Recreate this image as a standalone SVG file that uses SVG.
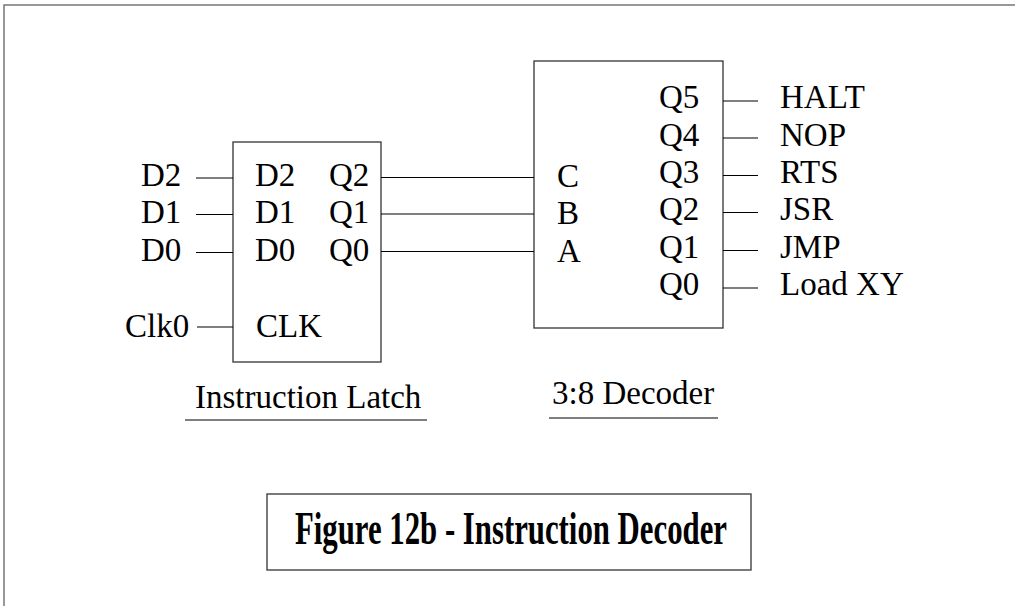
<svg xmlns="http://www.w3.org/2000/svg" width="1015" height="606" viewBox="0 0 1015 606">
<style>
  text { font-family: "Liberation Serif", "Times New Roman", serif; font-size: 33px; fill: #000; }
  .box { fill: #fff; stroke: #333; stroke-width: 1.3; }
  .wire { stroke: #000; stroke-width: 1.2; fill: none; }
  .frame { stroke: #777; stroke-width: 1.5; fill: none; }
  .cap { font-weight: bold; font-size: 47px; }
</style>
<rect width="1015" height="606" fill="#fff"/>
<path class="frame" d="M4,606 V5 H1015"/>

<g id="latch">
  <rect class="box" x="233" y="142" width="148" height="220"/>
  <text x="255" y="186">D2</text>
  <text x="255" y="223">D1</text>
  <text x="255" y="261">D0</text>
  <text x="256" y="337">CLK</text>
  <text x="329" y="186">Q2</text>
  <text x="329" y="223">Q1</text>
  <text x="329" y="261">Q0</text>
</g>

<g id="latch-inputs">
  <text x="141" y="186">D2</text>
  <text x="141" y="223">D1</text>
  <text x="141" y="261">D0</text>
  <text x="125" y="337">Clk0</text>
</g>

<g id="latch-label">
  <text x="195" y="408">Instruction Latch</text>
  <line class="wire" x1="185" y1="420" x2="427" y2="420"/>
</g>

<g id="decoder">
  <rect class="box" x="534" y="61" width="189" height="267"/>
  <text x="557" y="187">C</text>
  <text x="557" y="224">B</text>
  <text x="557" y="262">A</text>
  <text x="659" y="108">Q5</text>
  <text x="659" y="145.5">Q4</text>
  <text x="659" y="183">Q3</text>
  <text x="659" y="220">Q2</text>
  <text x="659" y="257.5">Q1</text>
  <text x="659" y="295">Q0</text>
</g>

<g id="decoder-outputs">
  <text x="780" y="108">HALT</text>
  <text x="780" y="145.5">NOP</text>
  <text x="780" y="183">RTS</text>
  <text x="780" y="220">JSR</text>
  <text x="780" y="257.5">JMP</text>
  <text x="780" y="295">Load XY</text>
</g>

<g id="decoder-label">
  <text x="552" y="404">3:8 Decoder</text>
  <line class="wire" x1="549" y1="418" x2="718" y2="418"/>
</g>

<g id="connectors">
  <line class="wire" x1="196" y1="178" x2="233" y2="178"/>
  <line class="wire" x1="196" y1="214.5" x2="233" y2="214.5"/>
  <line class="wire" x1="196" y1="252.5" x2="233" y2="252.5"/>
  <line class="wire" x1="197" y1="327" x2="233" y2="327"/>
  <line class="wire" x1="381" y1="177.5" x2="534" y2="177.5"/>
  <line class="wire" x1="381" y1="214" x2="534" y2="214"/>
  <line class="wire" x1="381" y1="251.5" x2="534" y2="251.5"/>
  <line class="wire" x1="723" y1="101" x2="758" y2="101"/>
  <line class="wire" x1="723" y1="138" x2="758" y2="138"/>
  <line class="wire" x1="723" y1="175.5" x2="758" y2="175.5"/>
  <line class="wire" x1="723" y1="212.5" x2="758" y2="212.5"/>
  <line class="wire" x1="723" y1="250.5" x2="758" y2="250.5"/>
  <line class="wire" x1="723" y1="288" x2="758" y2="288"/>
</g>

<g id="caption">
  <rect class="box" x="267" y="494" width="484" height="76"/>
  <text class="cap" x="295" y="544" textLength="432" lengthAdjust="spacingAndGlyphs">Figure 12b - Instruction Decoder</text>
</g>
</svg>
